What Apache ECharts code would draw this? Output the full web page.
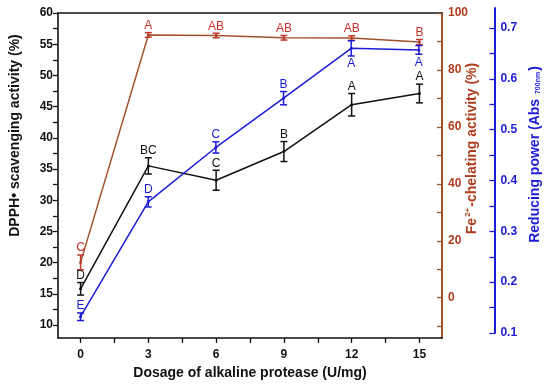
<!DOCTYPE html>
<html><head><meta charset="utf-8">
<script src="https://cdn.jsdelivr.net/npm/echarts@6/dist/echarts.min.js"></script>
<style>html,body{margin:0;padding:0;background:#fff}#c{width:550px;height:385px}</style>
</head><body><div id="c"></div>
<script>
// ---- data ----
const dosage = [0, 3, 6, 9, 12, 15];
const dpph = [15.8, 35.5, 33.2, 37.8, 45.3, 47.1];
const dpphErr = [1.0, 1.3, 1.6, 1.6, 1.8, 1.5];
const dpphLetters = ['D', 'BC', 'C', 'B', 'A', 'A'];
const fe = [12.4, 92.3, 92.1, 91.3, 91.2, 89.8];
const feErr = [2.6, 0.8, 0.8, 0.8, 0.8, 0.9];
const feLetters = ['C', 'A', 'AB', 'AB', 'AB', 'B'];
const rp = [0.132, 0.358, 0.465, 0.562, 0.660, 0.657];
const rpErr = [0.0075, 0.010, 0.011, 0.013, 0.015, 0.0085];
const rpLetters = ['E', 'D', 'C', 'B', 'A', 'A'];
const rpLetterBelow = [false, false, false, false, true, true];
// ---- ticks ----
const xTickLabels = [0, 3, 6, 9, 12, 15];
const xTicks = [0, 1.5, 3, 4.5, 6, 7.5, 9, 10.5, 12, 13.5, 15];
const dpphTickLabels = [10, 15, 20, 25, 30, 35, 40, 45, 50, 55, 60];
const dpphTicks = [10, 12.5, 15, 17.5, 20, 22.5, 25, 27.5, 30, 32.5, 35, 37.5, 40, 42.5, 45, 47.5, 50, 52.5, 55, 57.5, 60];
const feTickLabels = [0, 20, 40, 60, 80, 100];
const feTicks = [-10, 0, 10, 20, 30, 40, 50, 60, 70, 80, 90, 100];
const rpTickLabels = [0.1, 0.2, 0.3, 0.4, 0.5, 0.6, 0.7];
const rpTicks = [0.1, 0.15, 0.2, 0.25, 0.3, 0.35, 0.4, 0.45, 0.5, 0.55, 0.6, 0.65, 0.7];

const FONT = 'Liberation Sans, Arial, sans-serif';
const BLACK = '#111111';
const BROWN = '#a0522d';
const BROWN_TXT = '#b03c1e';
const RED_LET = '#c8302a';
const BLUE = '#1c1cd6';

function errSeries(xi, yi, vals, errs, letters, below, color, letterColor) {
  return {
    type: 'custom', xAxisIndex: xi, yAxisIndex: yi, z: 4, silent: true,
    data: dosage.map((x, i) => [x, vals[i], errs[i]]),
    renderItem: function (params, api) {
      const i = params.dataIndex;
      const x = api.value(0), y = api.value(1), e = api.value(2);
      const t = api.coord([x, y + e]), b = api.coord([x, y - e]);
      const w = 3.5;
      const st = { stroke: color, lineWidth: 1.5 };
      const lb = below && below[i];
      return {
        type: 'group', children: [
          { type: 'line', shape: { x1: t[0], y1: t[1], x2: b[0], y2: b[1] }, style: st },
          { type: 'line', shape: { x1: t[0] - w, y1: t[1], x2: t[0] + w, y2: t[1] }, style: st },
          { type: 'line', shape: { x1: b[0] - w, y1: b[1], x2: b[0] + w, y2: b[1] }, style: st },
          { type: 'text', style: { text: letters[i], x: t[0], y: lb ? b[1] + 2 : t[1] - 1,
              align: 'center', verticalAlign: lb ? 'top' : 'bottom', fill: letterColor,
              font: '12px ' + FONT } }
        ]
      };
    }
  };
}

function lineSeries(xi, yi, vals, color, z) {
  return {
    type: 'line', xAxisIndex: xi, yAxisIndex: yi, z: z, silent: true,
    data: dosage.map((x, i) => [x, vals[i]]),
    symbol: 'circle', symbolSize: 3, showSymbol: true,
    lineStyle: { color: color, width: 1.5 }, itemStyle: { color: color },
    animation: false
  };
}

const chart = echarts.init(document.getElementById('c'), null, { renderer: 'canvas' });
chart.setOption({
  backgroundColor: '#ffffff',
  animation: false,
  textStyle: { fontFamily: FONT },
  grid: [
    { left: 58, top: 13, width: 384, height: 325 },
    { left: 58, top: 8, width: 384, height: 325 }
  ],
  xAxis: [
    { type: 'value', gridIndex: 0, position: 'bottom', min: -1, max: 16,
      axisLine: { onZero: false, lineStyle: { color: BLACK, width: 1.6 } },
      axisTick: { show: true, length: 5, lineStyle: { color: BLACK, width: 1.3 }, customValues: xTicks },
      axisLabel: { customValues: xTickLabels, color: BLACK, fontWeight: 'bold', fontSize: 12, margin: 11, fontFamily: FONT },
      splitLine: { show: false },
      name: 'Dosage of alkaline protease (U/mg)', nameLocation: 'middle', nameGap: 24,
      nameTextStyle: { color: BLACK, fontWeight: 'bold', fontSize: 14, fontFamily: FONT } },
    { type: 'value', gridIndex: 0, position: 'top', min: -1, max: 16,
      axisLine: { show: true, onZero: false, lineStyle: { color: BLACK, width: 1.6 } },
      axisTick: { show: false }, axisLabel: { show: false }, splitLine: { show: false } },
    { type: 'value', gridIndex: 1, min: -1, max: 16, show: false, splitLine: { show: false } }
  ],
  yAxis: [
    { type: 'value', gridIndex: 0, position: 'left', min: 7.92, max: 60,
      axisLine: { show: true, onZero: false, lineStyle: { color: BLACK, width: 1.6 } },
      axisTick: { show: true, length: 5, lineStyle: { color: BLACK, width: 1.3 }, customValues: dpphTicks },
      axisLabel: { customValues: dpphTickLabels, color: BLACK, fontWeight: 'bold', fontSize: 12, margin: 5, fontFamily: FONT },
      splitLine: { show: false },
      name: 'DPPH• scavenging activity (%)', nameLocation: 'middle', nameGap: 36, nameRotate: 90,
      nameTextStyle: { color: BLACK, fontWeight: 'bold', fontSize: 14, fontFamily: FONT, padding: [0, 0, 0, 80] } },
    { type: 'value', gridIndex: 0, position: 'right', min: -14.15, max: 100,
      axisLine: { show: true, onZero: false, lineStyle: { color: BROWN, width: 2 } },
      axisTick: { show: true, inside: true, length: 5, lineStyle: { color: BROWN, width: 1.3 }, customValues: feTicks },
      axisLabel: { customValues: feTickLabels, color: BROWN_TXT, fontWeight: 'bold', fontSize: 12, margin: 6, fontFamily: FONT },
      splitLine: { show: false },
      name: '{n|Fe}{s|2+}{n|-chelating activity (%)}', nameLocation: 'middle', nameGap: 22, nameRotate: 90,
      nameMoveOverlap: false,
      nameTextStyle: { color: BROWN_TXT, fontFamily: FONT, padding: [0, 0, 0, 54],
        rich: { n: { fontSize: 14, fontWeight: 'bold', color: BROWN_TXT, fontFamily: FONT },
                s: { fontSize: 8, fontWeight: 'bold', color: BROWN_TXT, fontFamily: FONT, verticalAlign: 'top', padding: [0, 1, 8, 1] } } } },
    { type: 'value', gridIndex: 1, position: 'right', offset: 53, min: 0.1, max: 0.7394,
      axisLine: { show: true, onZero: false, lineStyle: { color: BLUE, width: 2 } },
      axisTick: { show: true, inside: true, length: 5, lineStyle: { color: BLUE, width: 1.3 }, customValues: rpTicks },
      axisLabel: { customValues: rpTickLabels, color: BLUE, fontWeight: 'bold', fontSize: 12, margin: 6, fontFamily: FONT,
        formatter: v => v.toFixed(1) },
      splitLine: { show: false },
      name: '{n|Reducing power (Abs }{s|700nm}{n|)}', nameLocation: 'middle', nameGap: 30, nameRotate: 90,
      nameTextStyle: { color: BLUE, fontFamily: FONT, padding: [0, 0, 0, 32],
        rich: { n: { fontSize: 14, fontWeight: 'bold', color: BLUE, fontFamily: FONT },
                s: { fontSize: 7, fontWeight: 'bold', color: BLUE, fontFamily: FONT, verticalAlign: 'bottom', padding: [6, 1, 0, 1] } } } }
  ],
  series: [
    lineSeries(0, 1, fe, BROWN, 2),
    lineSeries(0, 0, dpph, BLACK, 3),
    lineSeries(2, 2, rp, BLUE, 3),
    errSeries(0, 1, fe, feErr, feLetters, null, '#c0392b', RED_LET),
    errSeries(0, 0, dpph, dpphErr, dpphLetters, null, BLACK, BLACK),
    errSeries(2, 2, rp, rpErr, rpLetters, rpLetterBelow, BLUE, BLUE)
  ]
});
</script></body></html>
